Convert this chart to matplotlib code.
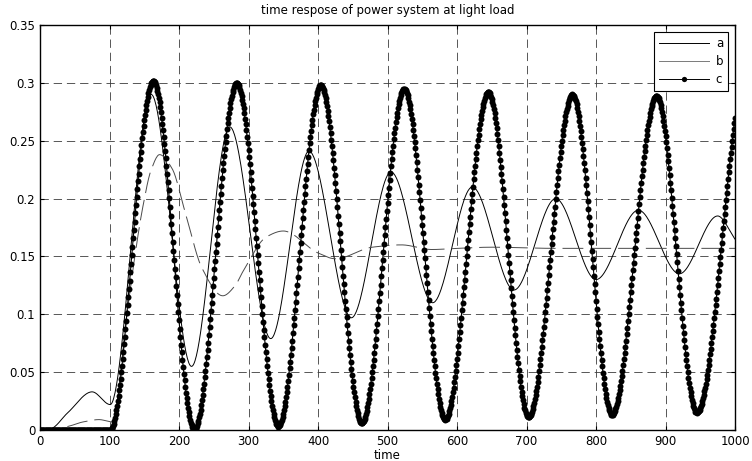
import numpy as np
import matplotlib
matplotlib.use("Agg")
import matplotlib.pyplot as plt
from matplotlib.lines import Line2D

# time axis of the simulation, one sample per step
t = np.arange(0, 1001, 1.0)

# a: damped swing (turning points + start-up hump)
a_time = [0, 15, 40, 75, 101, 160, 218, 273, 332, 387, 448, 505, 565, 622, 682, 742, 800, 861, 920, 975, 1000]
a_val = [0, 0.001, 0.015, 0.033, 0.022, 0.29, 0.055, 0.262, 0.079, 0.241, 0.097, 0.223,
         0.11, 0.21, 0.121, 0.2, 0.13, 0.19, 0.135, 0.185, 0.165]

# b: quickly settling response
b_time = [0, 15, 40, 62, 85, 104, 125, 134, 148, 160, 172, 190, 209, 233, 263, 281, 292, 326,
          350, 400, 425, 478, 520, 564, 600, 650, 740, 825, 1000]
b_val = [0, 0, 0.003, 0.007, 0.009, 0.007, 0.1, 0.14, 0.193, 0.225, 0.238, 0.226, 0.188, 0.14,
         0.116, 0.125, 0.137, 0.167, 0.172, 0.153, 0.148, 0.158, 0.16, 0.156, 0.157, 0.158,
         0.157, 0.157, 0.157]

# c: sustained oscillation (peaks and troughs)
c_time = [0, 101, 163, 222, 283, 343, 404, 463, 524, 583, 645, 703, 766, 823, 887, 945, 1000]
c_val = [0, 0, 0.302, 0.0, 0.300, 0.003, 0.298, 0.006, 0.295, 0.009, 0.292, 0.011, 0.290,
         0.013, 0.289, 0.015, 0.27]

x_ticks = list(range(0, 1001, 100))
y_ticks = [0, 0.05, 0.1, 0.15, 0.2, 0.25, 0.3, 0.35]
y_ticklabels = ['0', '0.05', '0.1', '0.15', '0.2', '0.25', '0.3', '0.35']
labels = ['a', 'b', 'c']


def pchip(xk, yk, x):
    """shape preserving cubic through the given points"""
    xk = np.asarray(xk, float)
    yk = np.asarray(yk, float)
    h = np.diff(xk)
    d = np.diff(yk) / h
    m = np.zeros_like(yk)
    for k in range(1, len(xk) - 1):
        if d[k - 1] * d[k] > 0:
            w1 = 2 * h[k] + h[k - 1]
            w2 = h[k] + 2 * h[k - 1]
            m[k] = (w1 + w2) / (w1 / d[k - 1] + w2 / d[k])
    m[-1] = d[-1]
    i = np.clip(np.searchsorted(xk, x, side='right') - 1, 0, len(h) - 1)
    s = (x - xk[i]) / h[i]
    return ((2 * s**3 - 3 * s**2 + 1) * yk[i] + (s**3 - 2 * s**2 + s) * h[i] * m[i]
            + (-2 * s**3 + 3 * s**2) * yk[i + 1] + (s**3 - s**2) * h[i] * m[i + 1])


plt.rcParams['font.family'] = 'DejaVu Sans'
plt.rcParams['font.size'] = 8.5
plt.rcParams['lines.scale_dashes'] = False

fig = plt.figure(figsize=(7.52, 4.61), dpi=100)
ax = fig.add_axes([0.0532, 0.0672, 0.9242, 0.8785])

ax.plot(t, pchip(a_time, a_val, t), color='black', lw=0.7)
ax.plot(t, pchip(b_time, b_val, t), color='#4a4a4a', lw=0.7, linestyle=(0, (15, 5)))
ax.plot(t, pchip(c_time, c_val, t), color='black', lw=0.8, marker='o', markersize=4.3,
        markeredgewidth=0)

ax.set_xlim(0, 1000)
ax.set_ylim(0, 0.35)
ax.set_xticks(x_ticks)
ax.set_yticks(y_ticks)
ax.set_yticklabels(y_ticklabels)
ax.tick_params(direction='in', length=3, width=0.8, top=True, right=True, pad=3.5)
ax.grid(True, color='#3c3c3c', linewidth=0.6, linestyle=(0, (6, 3.5)))
for sp in ax.spines.values():
    sp.set_linewidth(1.0)

ax.set_title('time respose of power system at light load', fontsize=8.5, pad=8)
ax.set_xlabel('time', labelpad=1)

handles = [Line2D([], [], color='black', lw=0.7),
           Line2D([], [], color='#7a7a7a', lw=0.7),
           Line2D([], [], color='black', lw=0.7, marker='o', markersize=3.8, markeredgewidth=0)]
leg = ax.legend(handles, labels, loc='upper right', bbox_to_anchor=(0.990, 0.983),
                borderaxespad=0, fancybox=False, framealpha=1, edgecolor='black',
                handlelength=4.2, labelspacing=0.45, numpoints=1, borderpad=0.4,
                handletextpad=0.6)
leg.get_frame().set_linewidth(0.8)

fig.savefig('out.png', dpi=100)
